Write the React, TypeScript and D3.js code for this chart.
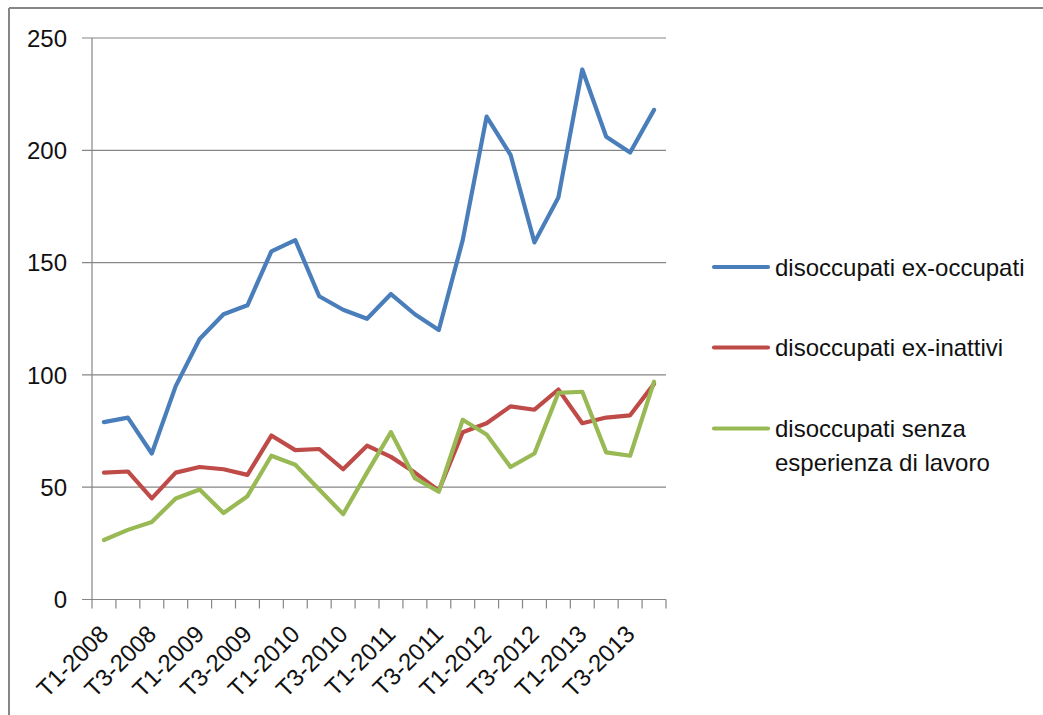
import React from "react";
import * as d3 from "d3";

// Quarterly series, T1-2008 .. T4-2013 (thousands)
const quarters: string[] = [];
const years = [2008, 2009, 2010, 2011, 2012, 2013];
years.forEach((y) => [1, 2, 3, 4].forEach((q) => quarters.push(`T${q}-${y}`)));

const exOccupati = [
  79, 81, 65, 95, 116, 127, 131, 155, 160, 135, 129, 125,
  136, 127, 120, 160, 215, 198, 159, 179, 236, 206, 199, 218,
];
const exInattivi = [
  56.5, 57, 45, 56.5, 59, 58, 55.5, 73, 66.5, 67, 58, 68.5,
  63.5, 56.5, 48.5, 74.5, 78.5, 86, 84.5, 93.5, 78.5, 81, 82, 96,
];
const senzaEsperienza = [
  26.5, 31, 34.5, 45, 49, 38.5, 46, 64, 60, 49, 38, 56.5,
  74.5, 54, 48, 80, 73.5, 59, 65, 92, 92.5, 65.5, 64, 97,
];

const yTicks = [0, 50, 100, 150, 200, 250];

const series = [
  { name: ["disoccupati ex-occupati"], values: exOccupati, color: "#4A7EBB" },
  { name: ["disoccupati ex-inattivi"], values: exInattivi, color: "#BE4B48" },
  { name: ["disoccupati senza", "esperienza di lavoro"], values: senzaEsperienza, color: "#98B954" },
];

const W = 1043;
const H = 715;
const plot = { left: 92, right: 666, top: 38, bottom: 599.5 };
const FONT = "'Liberation Sans', Arial, sans-serif";

export default function App() {
  const x = d3
    .scaleBand<string>()
    .domain(quarters)
    .range([plot.left, plot.right])
    .paddingInner(0)
    .paddingOuter(0);
  const y = d3.scaleLinear().domain([0, 250]).range([plot.bottom, plot.top]);
  const cx = (i: number) => (x(quarters[i]) as number) + x.bandwidth() / 2;
  const line = d3
    .line<number>()
    .x((_, i) => cx(i))
    .y((d) => y(d));

  const boundaries = d3.range(quarters.length + 1).map((i) => plot.left + i * x.bandwidth());
  const legendY = [267, 347.5, 428.5];

  return (
    <svg
      width={W}
      height={H}
      style={{ position: "absolute", left: 0, top: 0, background: "#fff" }}
      fontFamily={FONT}
    >
      {/* frame */}
      <line x1={9} y1={8} x2={W} y2={8} stroke="#868686" strokeWidth={2} />
      <line x1={9} y1={8} x2={9} y2={H} stroke="#868686" strokeWidth={2} />

      {/* gridlines and y ticks */}
      {yTicks.map((t) => (
        <g key={t}>
          <line
            x1={plot.left - 10}
            x2={plot.right}
            y1={y(t)}
            y2={y(t)}
            stroke="#868686"
            strokeWidth={1.2}
          />
          <text
            x={67}
            y={y(t)}
            dy="0.36em"
            textAnchor="end"
            fontSize={24}
            fill="#111"
          >
            {t}
          </text>
        </g>
      ))}

      {/* y axis */}
      <line x1={plot.left} x2={plot.left} y1={plot.top} y2={plot.bottom} stroke="#868686" strokeWidth={1.2} />

      {/* x ticks */}
      {boundaries.map((bx, i) => (
        <line key={i} x1={bx} x2={bx} y1={plot.bottom} y2={plot.bottom + 9} stroke="#868686" strokeWidth={1.2} />
      ))}

      {/* x labels, every other quarter */}
      {quarters.map((q, i) =>
        i % 2 === 0 ? (
          <text
            key={q}
            transform={`translate(${cx(i) + 6},${plot.bottom + 36}) rotate(-45)`}
            textAnchor="end"
            fontSize={24}
            fill="#111"
          >
            {q}
          </text>
        ) : null
      )}

      {/* series */}
      {series.map((s) => (
        <path
          key={s.name[0]}
          d={line(s.values) as string}
          fill="none"
          stroke={s.color}
          strokeWidth={4.2}
          strokeLinejoin="round"
          strokeLinecap="round"
        />
      ))}

      {/* legend */}
      {series.map((s, k) => (
        <g key={s.name[0]}>
          <line
            x1={714}
            x2={768}
            y1={legendY[k]}
            y2={legendY[k]}
            stroke={s.color}
            strokeWidth={4.2}
            strokeLinecap="round"
          />
          {s.name.map((ln, j) => (
            <text
              key={ln}
              x={775}
              y={legendY[k] + j * 33.5}
              dy="0.36em"
              fontSize={24}
              fill="#111"
            >
              {ln}
            </text>
          ))}
        </g>
      ))}
    </svg>
  );
}
